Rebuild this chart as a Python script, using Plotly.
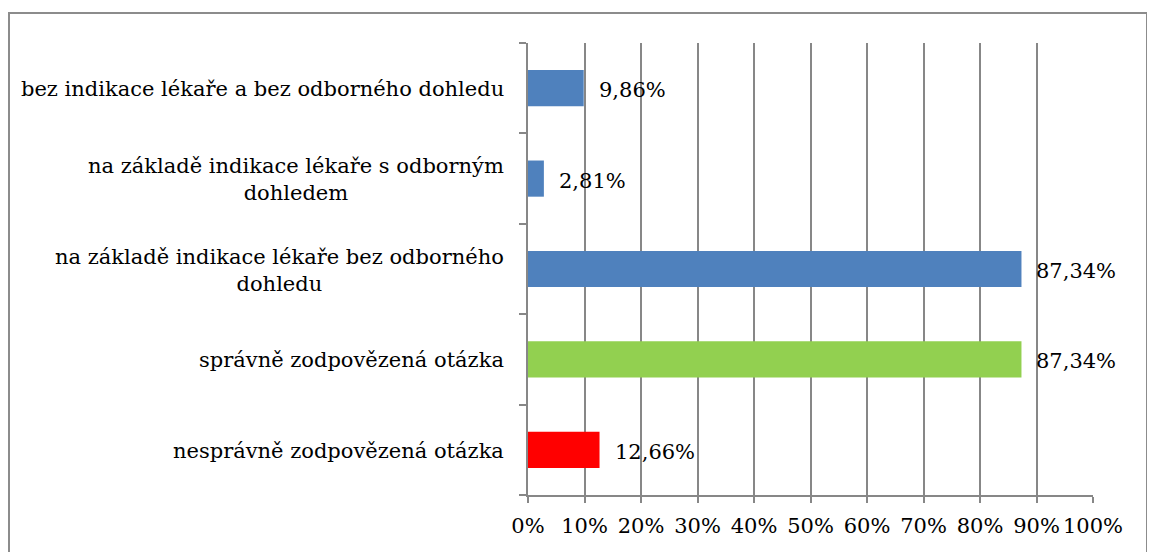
import plotly.graph_objects as go

categories = [
    "nesprávně zodpovězená otázka",
    "správně zodpovězená otázka",
    "na základě indikace lékaře bez odborného<br>dohledu",
    "na základě indikace lékaře s odborným<br>dohledem",
    "bez indikace lékaře a bez odborného dohledu",
]
values = [12.66, 87.34, 87.34, 2.81, 9.86]
value_labels = ["12,66%", "87,34%", "87,34%", "2,81%", "9,86%"]
bar_colors = ["#FF0000", "#92D050", "#4F81BD", "#4F81BD", "#4F81BD"]
x_ticks = [0, 10, 20, 30, 40, 50, 60, 70, 80, 90, 100]
x_tick_labels = [f"{t}%" for t in x_ticks]

FONT = "DejaVu Serif"
FS = 21
GRID = "#878787"

# page body has an 8px margin; figure coordinates = page coordinates - 8
OFF = 8
W, H = 1155 - OFF, 552 - OFF
ML = 528 - OFF
MR = W - (1093 - OFF)
MT = 43 - OFF
MB = H - (495 - OFF)
pw, ph = W - ML - MR, H - MT - MB


def px_x(px):
    return (px - OFF - ML) / pw


def px_y(py):
    return (H - MB - (py - OFF)) / ph


fig = go.Figure()
fig.add_trace(go.Bar(
    y=categories, x=values, orientation="h",
    marker=dict(color=bar_colors, line=dict(width=0)),
    width=0.4, hoverinfo="x+y",
))

annotations = []
for c, v, lab in zip(categories, values, value_labels):
    annotations.append(dict(
        x=v, y=c, xref="x", yref="y", text=lab, showarrow=False,
        xanchor="left", yanchor="middle", xshift=13, yshift=-2,
        font=dict(family=FONT, size=FS, color="#000000"),
    ))
    annotations.append(dict(
        x=0, y=c, xref="paper", yref="y", text=c, showarrow=False,
        xanchor="right", yanchor="middle", xshift=-22, yshift=-1,
        align="center",
        font=dict(family=FONT, size=FS, color="#000000"),
    ))

fig.add_shape(type="rect", xref="paper", yref="paper",
              x0=px_x(9), x1=px_x(1147), y0=px_y(580), y1=px_y(13),
              line=dict(color="#8C8C8C", width=2), layer="below")

fig.update_layout(
    width=W, height=H,
    margin=dict(l=ML, r=MR, t=MT, b=MB),
    paper_bgcolor="white", plot_bgcolor="white",
    showlegend=False,
    annotations=annotations,
    xaxis=dict(
        range=[0, 100], tickvals=x_ticks, ticktext=x_tick_labels,
        showgrid=True, gridcolor=GRID, gridwidth=2,
        showline=True, linecolor=GRID, linewidth=2,
        ticks="outside", ticklen=6, tickcolor=GRID, tickwidth=2,
        ticklabelstandoff=5,
        tickfont=dict(family=FONT, size=FS, color="#000000"),
        zeroline=False, fixedrange=True,
    ),
    yaxis=dict(
        categoryorder="array", categoryarray=categories,
        range=[-0.5, 4.5],
        showticklabels=False, showgrid=False,
        showline=True, linecolor=GRID, linewidth=2,
        ticks="outside", ticklen=7, tickcolor=GRID, tickwidth=2,
        tickson="boundaries", zeroline=False, fixedrange=True,
    ),
)

fig.write_html("out.html")
